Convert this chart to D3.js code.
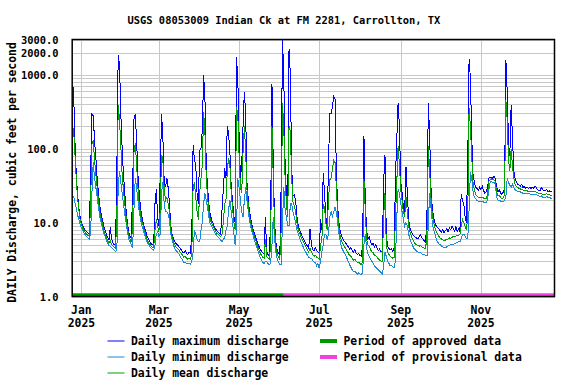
<!DOCTYPE html>
<html lang="en">
<head>
<meta charset="utf-8">
<script src="https://cdn.jsdelivr.net/npm/d3@7"></script>
<style>
  body { margin: 0; background: #fff; }
  svg { display: block; }
  text { font-family: "DejaVu Sans Mono", monospace; font-weight: bold; fill: #000; }
  .grid line { stroke: #c8c8c8; stroke-width: 1; shape-rendering: crispEdges; }
  .series { fill: none; stroke-width: 1; shape-rendering: crispEdges; }
</style>
</head>
<body>
<svg id="chart" width="576" height="384"></svg>
<script>
// daily values, Dec 26 2024 .. Dec 25 2025 (cfs)
var maxQ = [
  680,140,50,25,16,12,
  // Jan
  10,9,8.3,7.8,7.5,7.2,7,45,290,280,130,75,40,25,17,13,11,9,7.8,7,6.3,5.8,8.6,6,5.3,5,5,55,1860,1400,300,
  // Feb
  100,45,25,15,10,7.5,6.5,6,30,250,290,130,45,25,16,12,10,8.5,7.5,6.6,6,5.5,5.2,5,5,18,28,12,
  // Mar
  9,45,290,140,35,30,40,30,18,9,7,6,5.5,5.2,5,4.8,4.5,4.3,4,3.9,4.2,3.8,3.7,4,3.8,7,113,70,60,25,18,
  // Apr
  95,100,180,1000,500,60,30,18,13,11,10,9,8.3,7.8,7.5,7.2,7,15,28,55,40,200,160,90,30,20,12,10,1720,900,
  // May
  150,40,60,200,590,300,35,20,14,11,9,7.8,6.8,6,5.3,4.8,4.4,4.1,3.9,3.8,12,4,3.7,3.5,11,755,60,10,5.5,4.2,3.8,
  // Jun
  3.6,32,3000,990,60,25,15,2250,1000,55,23,24,20,12,9,8,7.2,6.5,6,5.5,5.1,4.8,4.5,8.3,5,4.3,4.1,4.6,4.2,4,
  // Jul
  4,11,8,47,25,12,9,60,300,300,370,510,470,50,16,10,7.5,6.5,6,5.6,5.3,5,4.7,4.4,4.6,4.2,4,4.3,3.9,3.7,3.8,
  // Aug
  3.6,3.5,5,150,20,8,6,6.5,5.5,5,5.2,4.7,5,4.5,4.2,4.4,4,4.2,37,83,7,4.8,4.5,4.3,4.4,4.1,4.5,43,135,420,200,
  // Sep
  35,26,16,14,57,25,11,8.5,7.5,7,6.6,6.3,6.2,6,6.5,6.8,6.3,6,5.6,5.4,15,410,150,30,16,12,10,9,8.5,8.2,
  // Oct
  7.8,7.5,8,7.3,7.8,8.3,7.5,8.5,8,9,8.2,7.7,8.8,7.5,8.2,7.6,24,20,18,12,10,72,1650,900,150,45,35,30,29,27,30,
  // Nov
  28,31,27,25,26,30,40,41,41,40,42,39,30,26,28,25,24,26,28,1600,600,120,80,390,150,50,40,35,33,32,
  // Dec
  31,33,30,31,29,30,29,30,29,30,29,31,30,28,27,27,30,28,27,27,28,26,27,26,26
];

var meanQ = [
  190,90,42,22,15,11,
  9.5,8.5,7.8,7.3,7,6.7,6.5,18,115,130,70,45,30,20,14,11.5,9.5,8,7,6.3,5.7,5.3,5.6,5.1,4.8,4.6,4.5,12,390,250,110,
  45,28,18,12,8.5,6.8,6,5.4,9,90,120,60,30,18,13,10.5,9,7.8,6.8,6,5.5,5.1,4.8,4.6,4.6,8,11,9,
  7.5,15,83,70,28,20,22,18,14,8,6.5,5.5,5,4.7,4.5,4.3,4,3.8,3.6,3.4,3.5,3.3,3.2,3.3,3.2,3.8,30,35,22,14,11,
  25,40,60,310,170,40,22,15,11,10,9.2,8.3,7.7,7.2,7,6.7,6.4,7,10,18,20,50,75,60,25,16,10,8,360,300,
  80,30,25,90,200,90,28,17,12,9.8,8.2,7.1,6.2,5.5,4.8,4.3,3.9,3.6,3.4,3.3,6,3.5,3.3,3.2,5,200,40,8,4.8,3.8,3.4,
  3.2,8,420,200,40,18,12,200,170,40,19,17,14,10,8,7.2,6.5,5.9,5.4,5,4.6,4.3,4,4.5,4,3.7,3.5,3.6,3.4,3.3,
  3.2,5,6,18,16,10,8,20,38,40,52,70,65,30,13,8.5,6.5,5.6,5.1,4.8,4.5,4.2,3.9,3.6,3.5,3.3,3.1,3.2,3,2.9,2.9,
  2.8,2.7,3,39,15,6,5,4.8,4.3,4,3.9,3.6,3.6,3.4,3.2,3.1,3,3,12,25,5,4,3.7,3.5,3.4,3.3,3.4,12,35,110,60,
  28,20,14,12,22,14,9,7.5,6.6,6,5.5,5.2,5,4.9,4.8,4.9,4.7,4.6,4.5,4.4,8,110,50,22,13,10,8.5,7.5,7,6.5,
  6.2,6,5.8,5.7,5.8,5.9,6,6.2,6.1,6.3,6.5,6.4,6.6,6.8,6.7,6.9,9,11,10,9,8,12,360,200,80,35,28,24,23,22,22,
  21.5,22,21.5,21,21,24,36,38,39,38,38,36,26,23,23,22,21,21.5,24,450,250,70,50,100,60,40,33,31,30,29,
  28.5,28,27.5,27,27,27,26.5,26.5,26,26,26,26.5,26,25.5,25,24.5,25,24,24,24,24.5,24,24,23.5,23.5
];

var minQ = [
  23,19,16,13,11,9.5,
  8.5,7.8,7.2,6.8,6.5,6.2,6,7,25,65,40,30,22,16,12,10,8.5,7.3,6.5,5.8,5.3,4.9,4.8,4.6,4.4,4.2,4.1,4.3,30,50,35,
  25,18,13,10,7.5,6,5.4,5,4.5,15,40,30,20,14,11,9,8,7,6.2,5.5,5.1,4.7,4.5,4.3,4.2,5,7,7.5,
  6.5,7,25,35,18,14,14,13,11,7,6,5,4.5,4.2,4,3.8,3.5,3.3,3.1,2.9,2.9,2.8,2.8,2.8,2.7,3,4,8,7,6,5.5,
  5.5,8,10,18,25,20,16,12,9.5,9,8.3,7.6,7.1,6.7,6.4,6.1,5.8,5.5,6,6,8,9,15,20,14,10,7,5,8,40,
  30,20,14,12,20,30,20,14,10.5,8.6,7.3,6.4,5.6,4.9,4.3,3.8,3.4,3.1,2.9,2.8,3,3,2.8,2.7,2.8,5,12,6,4,3.2,2.9,
  2.7,2.7,10,30,15,12,9,9,18,18,14,12,10,8,7,6.3,5.6,5,4.6,4.2,3.9,3.6,3.4,3.3,3.3,3.1,2.9,2.9,2.6,2.8,
  2.4,3,4,5,7,7,6,7,12,14,12,14,16,14,10,7,5.5,4.6,4.2,3.9,3.6,3.3,3,2.7,2.5,2.3,2.2,2.2,2.1,2,2.1,
  2,2,2.1,5,7,4.5,3.8,3.5,3.2,3,2.8,2.6,2.5,2.4,2.3,2.2,2.1,2,2.6,4,3.5,3,2.8,2.6,2.6,2.5,2.5,3,12,28,25,
  18,14,11,9,10,9,7,6,5.4,4.9,4.5,4.3,4.1,4,3.9,3.9,3.8,3.7,3.7,3.6,3.6,10,25,16,10,8,7,6,5.5,5.2,
  5,4.8,4.7,4.6,4.6,4.7,4.8,4.9,5,5,5.1,5.2,5.3,5.4,5.5,5.5,6,7,7,6.5,6,6,15,48,40,27,22,21,20,19.5,19,
  19,19,19,18.5,18.5,20,27,35,36,35,35,33,22,20,20,19.5,19,19,20,22,40,35,32,30,33,30,28,27,26,26,
  26,25.5,25,25,25,24.5,24.5,24.5,24,24,24,24,24,23.5,23,22.5,23,22,22,22,22.5,22,22,21.5,21.5
];

var yTickValues = [1, 10, 100, 1000, 2000, 3000];
var xTickDates = ["2025-01-01", "2025-03-01", "2025-05-01", "2025-07-01", "2025-09-01", "2025-11-01"];
var approvedEnd = "2025-06-04";

var parse = d3.timeParse("%Y-%m-%d");
var firstDay = parse("2024-12-26");
var days = d3.timeDay.range(firstDay, d3.timeDay.offset(firstDay, maxQ.length));

var svg = d3.select("#chart");
var plotL = 72.2, plotR = 554.5, plotT = 39.5, plotB = 296.5;

var x = d3.scaleTime()
    .domain([parse("2024-12-25"), parse("2025-12-27")])
    .range([plotL, plotR]);
var y = d3.scaleLog()
    .domain([1, 3000])
    .range([plotB, plotT]);

// grid
var minorVals = [];
[1, 10, 100].forEach(function(d) {
  for (var k = 1; k < 10; k++) minorVals.push(d * k);
});
minorVals.push(1000, 2000, 3000);

var grid = svg.append("g").attr("class", "grid");
grid.selectAll(".h").data(minorVals).enter().append("line")
    .attr("x1", plotL).attr("x2", plotR)
    .attr("y1", function(d) { return Math.round(y(d)) + 0.5; })
    .attr("y2", function(d) { return Math.round(y(d)) + 0.5; });
grid.selectAll(".v").data(xTickDates.map(parse)).enter().append("line")
    .attr("x1", function(d) { return Math.round(x(d)) + 0.5; })
    .attr("x2", function(d) { return Math.round(x(d)) + 0.5; })
    .attr("y1", plotT).attr("y2", plotB);

svg.append("clipPath").attr("id", "clip")
  .append("rect").attr("x", plotL).attr("y", plotT - 0.5)
    .attr("width", plotR - plotL).attr("height", plotB - plotT);

var line = d3.line()
    .x(function(d, i) { return x(days[i]); })
    .y(function(d) { return y(d); });

var plot = svg.append("g").attr("clip-path", "url(#clip)");
plot.append("path").attr("class", "series").attr("stroke", "#0000ff").attr("d", line(maxQ));
plot.append("path").attr("class", "series").attr("stroke", "#1a8ad4").attr("d", line(minQ));
plot.append("path").attr("class", "series").attr("stroke", "#00a000").attr("d", line(meanQ));

// approved / provisional bar
svg.append("line")
    .attr("x1", plotL).attr("x2", x(parse(approvedEnd)))
    .attr("y1", plotB - 1.8).attr("y2", plotB - 1.8)
    .attr("stroke", "#009900").attr("stroke-width", 3);
svg.append("line")
    .attr("x1", x(parse(approvedEnd))).attr("x2", plotR)
    .attr("y1", plotB - 1.8).attr("y2", plotB - 1.8)
    .attr("stroke", "#ee44dd").attr("stroke-width", 3);

// frame
svg.append("rect")
    .attr("x", plotL).attr("y", plotT).attr("width", plotR - plotL).attr("height", plotB - plotT)
    .attr("fill", "none").attr("stroke", "#000").attr("stroke-width", 1.5);

// y tick labels
svg.selectAll(".ytl").data(yTickValues).enter().append("text")
    .attr("x", 58.5)
    .attr("y", function(d) { return y(d) + 4; })
    .attr("text-anchor", "end")
    .style("font-size", "10.4px")
    .text(function(d) { return d3.format(".1f")(d); });

// x tick labels
var fmtMon = d3.timeFormat("%b"), fmtYr = d3.timeFormat("%Y");
var xl = svg.selectAll(".xtl").data(xTickDates.map(parse)).enter().append("text")
    .attr("text-anchor", "middle")
    .style("font-size", "11.4px");
xl.append("tspan").attr("x", function(d) { return x(d); }).attr("y", 314).text(fmtMon);
xl.append("tspan").attr("x", function(d) { return x(d); }).attr("y", 327).text(fmtYr);

// title
svg.append("text")
    .attr("x", 284).attr("y", 24)
    .attr("text-anchor", "middle")
    .style("font-size", "10.4px")
    .text("USGS 08053009 Indian Ck at FM 2281, Carrollton, TX");

// y axis title
svg.append("text")
    .attr("transform", "translate(16,172.5) rotate(-90)")
    .attr("text-anchor", "middle")
    .style("font-size", "11.4px")
    .text("DAILY Discharge, cubic feet per second");

// legend
var legend = [
  {label: "Daily maximum discharge", color: "#0000ff", w: 1, col: 0, row: 0},
  {label: "Daily minimum discharge", color: "#1a8ad4", w: 1, col: 0, row: 1},
  {label: "Daily mean discharge", color: "#00a000", w: 1, col: 0, row: 2},
  {label: "Period of approved data", color: "#009900", w: 4, col: 1, row: 0},
  {label: "Period of provisional data", color: "#ee44dd", w: 4, col: 1, row: 1}
];
var colX = [107.5, 320];
var lg = svg.selectAll(".lg").data(legend).enter().append("g")
    .attr("transform", function(d) { return "translate(" + colX[d.col] + "," + (341 + d.row * 16) + ")"; });
lg.append("line").attr("x1", 0).attr("x2", 17).attr("y1", 0).attr("y2", 0)
    .attr("stroke", function(d) { return d.color; })
    .attr("stroke-width", function(d) { return d.w; });
lg.append("text").attr("x", 23.5).attr("y", 4)
    .style("font-size", "11.4px")
    .text(function(d) { return d.label; });
</script>
</body>
</html>
